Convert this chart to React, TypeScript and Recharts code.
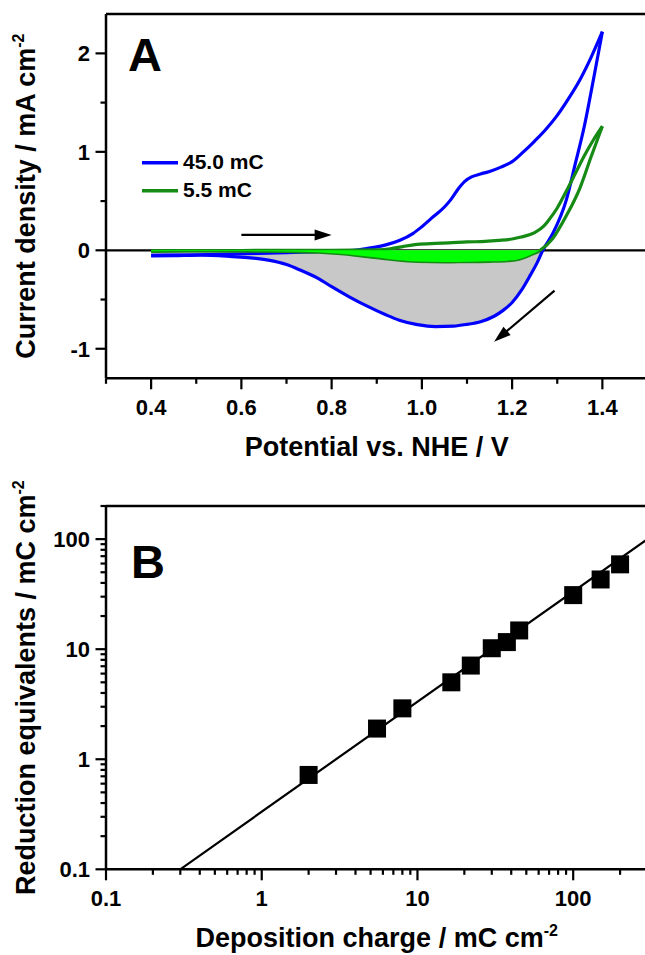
import React from "react";
import {
  Area,
  ComposedChart,
  Customized,
  Line,
  ReferenceLine,
  Scatter,
  XAxis,
  YAxis,
} from "recharts";

const FONT = '"Liberation Sans", Arial, Helvetica, sans-serif';
const BLUE = "#0000ff";
const GREEN = "#158a15";
const BRIGHT_GREEN = "#00ff00";
const GREY = "#c8c8c8";

// ---- panel A: cyclic voltammograms [potential V vs NHE, current density mA cm-2]
const blueForward = [
  [0.4, -0.05], [0.5, -0.045], [0.6, -0.035], [0.7, -0.025], [0.78, -0.012],
  [0.85, 0.0], [0.88, 0.02], [0.92, 0.055], [0.95, 0.1], [0.98, 0.17],
  [1.0, 0.24], [1.025, 0.34], [1.05, 0.44], [1.065, 0.52], [1.08, 0.62],
  [1.095, 0.7], [1.11, 0.745], [1.13, 0.775], [1.15, 0.8], [1.175, 0.845],
  [1.2, 0.9], [1.225, 1.0], [1.25, 1.11], [1.275, 1.23], [1.3, 1.37],
  [1.325, 1.54], [1.35, 1.73], [1.375, 1.96], [1.4, 2.22],
];
const blueReverse = [
  [0.4, -0.058], [0.45, -0.055], [0.51, -0.05], [0.58, -0.064], [0.62, -0.076],
  [0.66, -0.1], [0.7, -0.145], [0.73, -0.2], [0.77, -0.285], [0.8, -0.37],
  [0.84, -0.475], [0.88, -0.57], [0.92, -0.655], [0.95, -0.71], [0.99, -0.755],
  [1.03, -0.775], [1.07, -0.77], [1.1, -0.752], [1.13, -0.725], [1.16, -0.67],
  [1.18, -0.61], [1.2, -0.53], [1.22, -0.41], [1.24, -0.255], [1.255, -0.13],
  [1.268, 0.0], [1.29, 0.17], [1.32, 0.51], [1.34, 0.88], [1.36, 1.26],
  [1.38, 1.73], [1.4, 2.22],
];
const greenForward = [
  [0.4, -0.005], [0.5, -0.003], [0.6, -0.002], [0.7, 0.0], [0.8, 0.0],
  [0.9, 0.005], [0.93, 0.015], [0.96, 0.04], [0.99, 0.06], [1.03, 0.07],
  [1.06, 0.075], [1.1, 0.085], [1.14, 0.09], [1.17, 0.1], [1.2, 0.115],
  [1.22, 0.135], [1.25, 0.18], [1.27, 0.245], [1.28, 0.3], [1.3, 0.43],
  [1.32, 0.6], [1.34, 0.78], [1.36, 0.96], [1.38, 1.12], [1.4, 1.26],
];
const greenReverse = [
  [0.4, -0.01], [0.5, -0.006], [0.6, -0.008], [0.7, -0.012], [0.77, -0.02],
  [0.82, -0.035], [0.88, -0.064], [0.93, -0.09], [0.99, -0.113], [1.05, -0.118],
  [1.1, -0.115], [1.15, -0.112], [1.19, -0.105], [1.21, -0.095], [1.24, -0.047],
  [1.262, 0.0], [1.29, 0.12], [1.32, 0.35], [1.35, 0.63], [1.375, 0.95],
  [1.4, 1.26],
];
const legendItems = [
  { label: "45.0 mC", color: BLUE },
  { label: "5.5 mC", color: GREEN },
];
const cvTicksX = [0.3, 0.4, 0.5, 0.6, 0.7, 0.8, 0.9, 1.0, 1.1, 1.2, 1.3, 1.4, 1.5];
const cvMajorX = [0.4, 0.6, 0.8, 1.0, 1.2, 1.4];
const cvTicksY = [-1, -0.5, 0, 0.5, 1, 1.5, 2];
const cvMajorY = [-1, 0, 1, 2];

// ---- panel B: reduction equivalents vs deposition charge (mC cm-2)
const depositionCharge = [2, 5.5, 8, 16.5, 22, 30, 37.5, 45, 100, 150, 200];
const reductionEquiv = [0.72, 1.9, 2.9, 5.0, 7.1, 10.2, 11.6, 14.8, 31, 43, 59];
const fitLine = [
  { x: 0.3, y: 0.1 },
  { x: 300, y: 100 },
];
const logTicksX = [
  0.1, 0.2, 0.3, 0.4, 0.5, 0.6, 0.7, 0.8, 0.9, 1, 2, 3, 4, 5, 6, 7, 8, 9,
  10, 20, 30, 40, 50, 60, 70, 80, 90, 100, 200, 300,
];
const logTicksY = [
  0.1, 0.2, 0.3, 0.4, 0.5, 0.6, 0.7, 0.8, 0.9, 1, 2, 3, 4, 5, 6, 7, 8, 9,
  10, 20, 30, 40, 50, 60, 70, 80, 90, 100, 200,
];
const logMajor = [0.1, 1, 10, 100];

const toPts = (arr: number[][]) => arr.map(([v, i]) => ({ v, i }));
const blueFill = toPts(blueReverse.filter(([v]) => v <= 1.268));
const greenFill = toPts(greenReverse.filter(([v]) => v <= 1.262));
const points = depositionCharge.map((x, k) => ({ x, y: reductionEquiv[k] }));

const isMajor = (v: number, majors: number[]) =>
  majors.some((m) => Math.abs(m - v) < 1e-6);

const textStyle = {
  fontFamily: FONT,
  fontWeight: "bold" as const,
  fill: "#000",
};

const makeXTick = (majors: number[], fmt: (v: number) => string) => (p: any) => {
  const { x, y, payload } = p;
  const major = isMajor(payload.value, majors);
  return (
    <g>
      <line x1={x} x2={x} y1={y} y2={y + (major ? 11 : 5.5)} stroke="#000" strokeWidth={2.2} />
      {major && (
        <text x={x} y={y + 37} textAnchor="middle" fontSize={22} {...textStyle}>
          {fmt(payload.value)}
        </text>
      )}
    </g>
  );
};

const makeYTick = (majors: number[], fmt: (v: number) => string) => (p: any) => {
  const { x, y, payload } = p;
  const major = isMajor(payload.value, majors);
  return (
    <g>
      <line x1={x} x2={x - (major ? 10.5 : 5.5)} y1={y} y2={y} stroke="#000" strokeWidth={2.2} />
      {major && (
        <text x={x - 16} y={y + 8} textAnchor="end" fontSize={22} {...textStyle}>
          {fmt(payload.value)}
        </text>
      )}
    </g>
  );
};

function XTitle({ viewBox, text, sup }: any) {
  const cx = viewBox.x + viewBox.width / 2;
  return (
    <text x={cx} y={viewBox.y + 78} textAnchor="middle" fontSize={27} {...textStyle}>
      {text}
      {sup && (
        <tspan dy={-11} fontSize={16}>
          {sup}
        </tspan>
      )}
    </text>
  );
}

function YTitle({ viewBox, text, sup }: any) {
  const cy = viewBox.y + viewBox.height / 2;
  const bx = 35;
  return (
    <text
      x={bx}
      y={cy}
      transform={`rotate(-90, ${bx}, ${cy})`}
      textAnchor="middle"
      fontSize={27}
      {...textStyle}
    >
      {text}
      {sup && (
        <tspan dy={-11} fontSize={16}>
          {sup}
        </tspan>
      )}
    </text>
  );
}

function Arrow(props: any) {
  const { x1, y1, x2, y2 } = props;
  const dx = x2 - x1;
  const dy = y2 - y1;
  const len = Math.sqrt(dx * dx + dy * dy);
  const ux = dx / len;
  const uy = dy / len;
  const head = 17;
  const half = 5.5;
  const bx = x2 - ux * head;
  const by = y2 - uy * head;
  return (
    <g>
      <line x1={x1} y1={y1} x2={bx + ux * 2} y2={by + uy * 2} stroke="#000" strokeWidth={2.2} />
      <polygon
        points={`${x2},${y2} ${bx - uy * half},${by + ux * half} ${bx + uy * half},${by - ux * half}`}
        fill="#000"
      />
    </g>
  );
}

function PanelALabels() {
  return (
    <g>
      <text x={128} y={71} fontSize={47} {...textStyle}>
        A
      </text>
      {legendItems.map((d, k) => (
        <g key={d.label}>
          <line
            x1={142}
            x2={178}
            y1={162.7 + k * 28}
            y2={162.7 + k * 28}
            stroke={d.color}
            strokeWidth={3.5}
          />
          <text x={183} y={169} fontSize={21} {...textStyle}>
            <tspan y={169 + k * 28}>{d.label}</tspan>
          </text>
        </g>
      ))}
    </g>
  );
}

function PanelBLabels() {
  return (
    <text x={131} y={108} fontSize={47} {...textStyle}>
      B
    </text>
  );
}

function Square(props: any) {
  const { cx, cy } = props;
  return <rect x={cx - 9} y={cy - 9} width={18} height={18} fill="#000" />;
}

const axisLine = { stroke: "#000", strokeWidth: 2.5 };

function CVChart() {
  return (
    <ComposedChart
      width={660}
      height={470}
      margin={{ top: 14, right: 12.5, bottom: 0, left: 0 }}
    >
      <XAxis
        type="number"
        dataKey="v"
        domain={[0.3, 1.5]}
        allowDataOverflow
        ticks={cvTicksX}
        interval={0}
        tick={makeXTick(cvMajorX, (v) => v.toFixed(1))}
        tickLine={false}
        tickSize={0}
        tickMargin={0}
        axisLine={axisLine}
        height={91.7}
        label={{
          content: (p: any) => <XTitle viewBox={p.viewBox} text="Potential vs. NHE / V" />,
        }}
      />
      <YAxis
        type="number"
        domain={[-1.3, 2.4]}
        allowDataOverflow
        ticks={cvTicksY}
        interval={0}
        tick={makeYTick(cvMajorY, (v) => String(v))}
        tickLine={false}
        tickSize={0}
        tickMargin={0}
        axisLine={axisLine}
        width={106}
        label={{
          content: (p: any) => (
            <YTitle viewBox={p.viewBox} text="Current density / mA cm" sup="-2" />
          ),
        }}
      />
      <ReferenceLine y={2.4} stroke="#000" strokeWidth={2.5} zIndex={50} />
      <ReferenceLine y={0} stroke="#000" strokeWidth={2.2} zIndex={50} />
      <Area
        data={blueFill}
        dataKey="i"
        type="monotone"
        baseValue={0}
        fill={GREY}
        fillOpacity={1}
        stroke="none"
        zIndex={100}
        isAnimationActive={false}
      />
      <Line
        data={toPts(blueForward)}
        dataKey="i"
        type="monotone"
        stroke={BLUE}
        strokeWidth={3.2}
        dot={false}
        zIndex={400}
        isAnimationActive={false}
      />
      <Line
        data={toPts(blueReverse)}
        dataKey="i"
        type="monotone"
        stroke={BLUE}
        strokeWidth={3.2}
        dot={false}
        zIndex={400}
        isAnimationActive={false}
      />
      <Line
        data={toPts(greenForward)}
        dataKey="i"
        type="monotone"
        stroke={GREEN}
        strokeWidth={3.2}
        dot={false}
        zIndex={450}
        isAnimationActive={false}
      />
      <Line
        data={toPts(greenReverse)}
        dataKey="i"
        type="monotone"
        stroke={GREEN}
        strokeWidth={3.2}
        dot={false}
        zIndex={450}
        isAnimationActive={false}
      />
      <Area
        data={greenFill}
        dataKey="i"
        type="monotone"
        baseValue={0}
        fill={BRIGHT_GREEN}
        fillOpacity={1}
        stroke="none"
        zIndex={460}
        isAnimationActive={false}
      />
      <ReferenceLine
        segment={[
          { x: 0.6, y: 0.156 },
          { x: 0.8, y: 0.156 },
        ]}
        shape={Arrow}
        zIndex={600}
      />
      <ReferenceLine
        segment={[
          { x: 1.294, y: -0.41 },
          { x: 1.16, y: -0.93 },
        ]}
        shape={Arrow}
        zIndex={600}
      />
      <Customized component={PanelALabels} />
    </ComposedChart>
  );
}

function LogChart() {
  return (
    <ComposedChart
      width={660}
      height={485}
      margin={{ top: 36, right: 12.5, bottom: 0, left: 0 }}
    >
      <XAxis
        type="number"
        dataKey="x"
        scale="log"
        domain={[0.1, 300]}
        allowDataOverflow
        ticks={logTicksX}
        interval={0}
        tick={makeXTick(logMajor, (v) => String(v))}
        tickLine={false}
        tickSize={0}
        tickMargin={0}
        axisLine={axisLine}
        height={85.7}
        label={{
          content: (p: any) => (
            <XTitle viewBox={p.viewBox} text="Deposition charge / mC cm" sup="-2" />
          ),
        }}
      />
      <YAxis
        type="number"
        scale="log"
        domain={[0.1, 200]}
        allowDataOverflow
        ticks={logTicksY}
        interval={0}
        tick={makeYTick(logMajor, (v) => String(v))}
        tickLine={false}
        tickSize={0}
        tickMargin={0}
        axisLine={axisLine}
        width={106}
        label={{
          content: (p: any) => (
            <YTitle viewBox={p.viewBox} text="Reduction equivalents / mC cm" sup="-2" />
          ),
        }}
      />
      <ReferenceLine y={200} stroke="#000" strokeWidth={2.5} />
      <Line
        data={fitLine}
        dataKey="y"
        type="linear"
        stroke="#000"
        strokeWidth={2.2}
        dot={false}
        isAnimationActive={false}
      />
      <Scatter data={points} dataKey="y" fill="#000" shape={Square} isAnimationActive={false} />
      <Customized component={PanelBLabels} />
    </ComposedChart>
  );
}

export default function App() {
  return (
    <div
      style={{
        position: "absolute",
        left: 0,
        top: 0,
        width: 645,
        height: 955,
        overflow: "hidden",
        background: "#fff",
      }}
    >
      <div style={{ position: "absolute", left: 0, top: 0 }}>
        <CVChart />
      </div>
      <div style={{ position: "absolute", left: 0, top: 470 }}>
        <LogChart />
      </div>
    </div>
  );
}
